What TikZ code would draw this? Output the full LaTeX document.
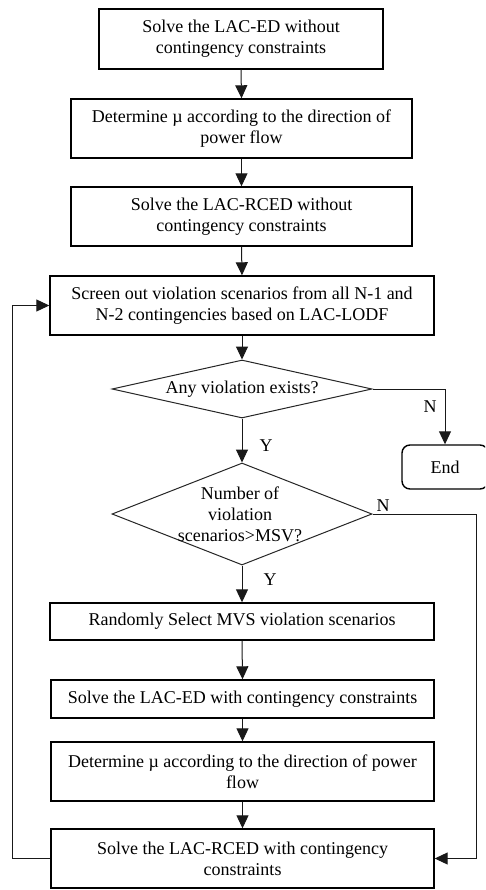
\documentclass[tikz,border=0pt]{standalone}
\usepackage{fontspec}
\setmainfont{Liberation Serif}
\usetikzlibrary{shapes.geometric,arrows.meta}
\tikzset{
  box/.style={draw=black, line width=1.4pt, align=center, inner sep=0pt, fill=white,
    font=\fontsize{18}{21}\selectfont},
  dia/.style={draw=black!85, line width=1pt, diamond, inner sep=0pt},
  txt/.style={align=center, inner sep=0pt, font=\fontsize{18}{21}\selectfont},
  lbl/.style={inner sep=0pt, font=\fontsize{18}{21}\selectfont},
  arr/.style={draw=black!90, line width=1pt, -{Triangle[length=13pt,width=12pt]}},
}
\begin{document}
\begin{tikzpicture}[x=1pt,y=-1pt]
\useasboundingbox (0,0) rectangle (485,890);
\clip (0,0) rectangle (485,890);
\fill[white] (0,0) rectangle (485,890);
\node[box, minimum width=284pt, minimum height=60pt] (b1) at (241,39) {Solve the LAC-ED without\\contingency constraints};
\node[box, minimum width=341pt, minimum height=59pt] (b2) at (241.5,128.5) {Determine \textmu\ according to the direction of\\power flow};
\node[box, minimum width=341pt, minimum height=59pt] (b3) at (241.5,216.5) {Solve the LAC-RCED without\\contingency constraints};
\node[box, minimum width=384pt, minimum height=59pt] (b4) at (242,305.5) {Screen out violation scenarios from all N-1 and\\N-2 contingencies based on LAC-LODF};
\node[dia, minimum width=260pt, minimum height=58pt] (d1) at (242,389) {};
\node[txt] (d1t) at (d1) {Any violation exists?};
\node[box, rounded corners=8pt, minimum width=86pt, minimum height=44pt] (endn) at (445,467) {End};
\node[dia, minimum width=260pt, minimum height=102pt] (d2) at (242,514) {};
\node[txt] (d2t) at (240,514) {Number of\\violation\\scenarios>MSV?};
\node[box, minimum width=384pt, minimum height=37pt] (b5) at (242,621.5) {Randomly Select MVS violation scenarios};
\node[box, minimum width=383pt, minimum height=38pt] (b6) at (242.5,699) {Solve the LAC-ED with contingency constraints};
\node[box, minimum width=383pt, minimum height=59pt] (b7) at (242.5,771.5) {Determine \textmu\ according to the direction of power\\flow};
\node[box, minimum width=383pt, minimum height=59pt] (b8) at (242.5,858.5) {Solve the LAC-RCED with contingency\\constraints};
\node[lbl] (y1) at (266,446) {Y};
\node[lbl] (y2) at (270,580) {Y};
\node[lbl] (n1) at (430,407) {N};
\node[lbl] (n2) at (383,506) {N};
\draw[arr] (b1.south) -- (b2.north);
\draw[arr] (b2.south) -- (b3.north);
\draw[arr] (b3.south) -- (b4.north);
\draw[arr] (b4.south) -- (d1.north);
\draw[arr] (d1.south) -- (d2.north);
\draw[arr] (d2.south) -- (b5.north);
\draw[arr] (b5.south) -- (b6.north);
\draw[arr] (b6.south) -- (b7.north);
\draw[arr] (b7.south) -- (b8.north);
\draw[arr] (d1.east) -| (endn.north);
\coordinate (c2) at (476,514);
\draw[arr] (d2.east) -- (c2) |- (b8.east);
\coordinate (cl) at (12,858.5);
\draw[arr] (b8.west) -- (cl) |- (b4.west);
\end{tikzpicture}
\end{document}
